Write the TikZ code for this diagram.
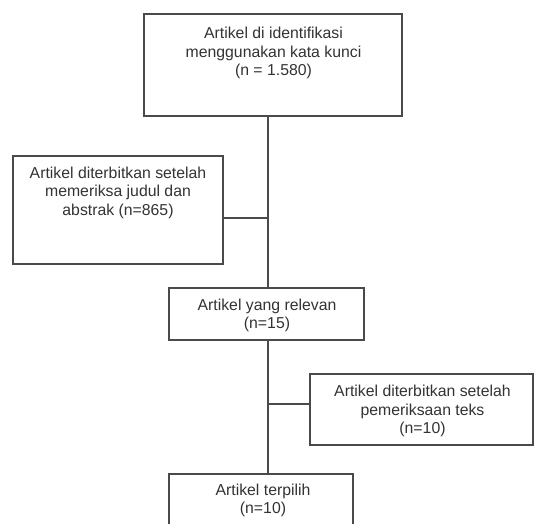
\documentclass[tikz,border=0pt]{standalone}
\usepackage{fontspec}
\setmainfont{Liberation Sans}
\definecolor{linegray}{HTML}{4A4A4A}
\definecolor{textgray}{HTML}{333333}
\tikzset{
  box/.style={draw=linegray, line width=1.2pt, inner sep=0pt, fill=none},
  txt/.style={text=textgray, align=center, inner sep=0pt, font=\fontsize{15.8}{18.5}\selectfont},
  conn/.style={draw=linegray, line width=1.2pt}
}
\begin{document}
\begin{tikzpicture}[x=1pt, y=-1pt]
\useasboundingbox (0,0) rectangle (534,523);
\clip (0,0) rectangle (534,523);
\fill[white] (0,0) rectangle (534,523);
% boxes
\node[box, minimum width=258pt, minimum height=102pt] (b1) at (273,65) {};
\node[box, minimum width=210pt, minimum height=108pt] (b2) at (118,210) {};
\node[box, minimum width=195pt, minimum height=52pt] (b3) at (266.5,314) {};
\node[box, minimum width=223pt, minimum height=71pt] (b4) at (421.5,409.5) {};
\node[box, minimum width=184pt, minimum height=70pt] (b5) at (261,509) {};
% texts
\node[txt] (t1) at (273.5,53.2) {Artikel di identifikasi\\menggunakan kata kunci\\(n = 1.580)};
\node[txt] (t2) at (118,192.5) {Artikel diterbitkan setelah\\memeriksa judul dan\\abstrak (n=865)};
\node[txt] (t3) at (267,315.5) {Artikel yang relevan\\(n=15)};
\node[txt] (t4) at (422.5,411) {Artikel diterbitkan setelah\\pemeriksaan teks\\(n=10)};
\node[txt] (t5) at (263,500.5) {Artikel terpilih\\(n=10)};
% connectors
\coordinate (j1) at (268,218);
\coordinate (j2) at (268,404);
\draw[conn] (b1.south -| j1) -- (b3.north -| j1);
\draw[conn] (b3.south -| j2) -- (b5.north -| j2);
\draw[conn] (b2.east |- j1) -- (j1);
\draw[conn] (j2) -- (b4.west |- j2);
\end{tikzpicture}
\end{document}
